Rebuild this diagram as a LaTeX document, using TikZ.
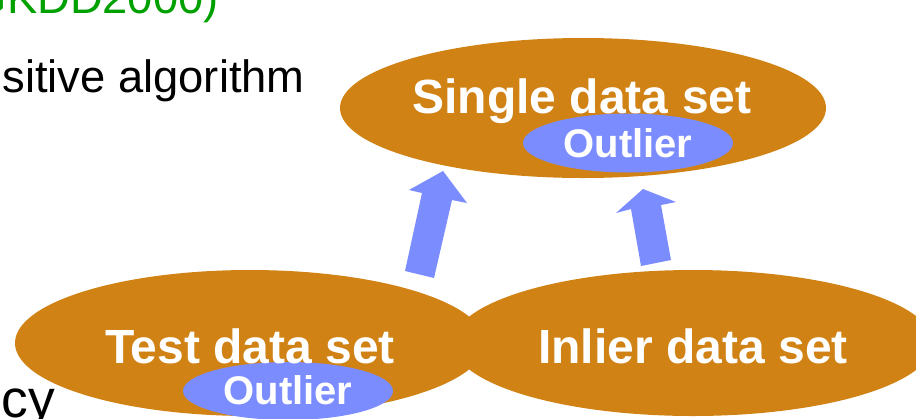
\documentclass[tikz,border=0pt]{standalone}
\usepackage{fontspec}
\setmainfont{Liberation Sans}
\usetikzlibrary{shapes.geometric}
\definecolor{setorange}{RGB}{209,130,20}
\definecolor{outblue}{RGB}{123,140,255}
\definecolor{refgreen}{RGB}{0,160,0}
\tikzset{
  dataset/.style={ellipse, fill=setorange, inner sep=0pt},
  outlierset/.style={ellipse, fill=outblue, inner sep=0pt},
  settext/.style={text=white, font=\fontsize{36}{40}\selectfont\bfseries, anchor=base, inner sep=0pt},
  outtext/.style={text=white, font=\fontsize{30}{34}\selectfont\bfseries, anchor=base, inner sep=0pt},
  bodytext/.style={font=\fontsize{34}{38}\selectfont, inner sep=0pt},
  uparrow/.style={fill=outblue}
}
\begin{document}
\begin{tikzpicture}[x=0.75pt, y=-0.75pt]
			%%%%% START %%%%%
			\useasboundingbox (0,0) rectangle (916,418);
			\clip (0,0) rectangle (916,418);
			
			\node[bodytext, text=refgreen, anchor=base east] (ref) at (219, 13) {GKDD2000)};
			\node[bodytext, anchor=base east] (algo) at (305, 92) {sitive algorithm};
			\node[bodytext, font=\fontsize{40}{44}\selectfont, anchor=base east] (acc) at (55, 417) {cy};
			
			\node[dataset, minimum width=364.5pt, minimum height=105pt] (single) at (583, 108) {};
			\node[outlierset, minimum width=157.5pt, minimum height=44.25pt] (singleout) at (628, 143) {};
			\node[settext] (singlelbl) at (582, 113) {Single data set};
			\node[outtext] (singleoutlbl) at (628, 157) {Outlier};
			
			\node[dataset, minimum width=360pt, minimum height=109.5pt] (inlier) at (693, 343) {};
			\node[dataset, minimum width=352.5pt, minimum height=109.5pt] (test) at (250, 343) {};
			\node[outlierset, minimum width=157.5pt, minimum height=43.5pt] (testout) at (288, 391) {};
			\node[settext] (testlbl) at (250, 363) {Test data set};
			\node[settext] (inlierlbl) at (693, 363) {Inlier data set};
			\node[outtext] (testoutlbl) at (288, 404) {Outlier};
			
			\fill[uparrow] (443,171) -- (467,203) -- (452,200) -- (434,278) -- (405,271) -- (422,193) -- (409,190) -- cycle;
			\fill[uparrow] (643,189) -- (676,202) -- (661,205) -- (671,260) -- (641,266) -- (631,209) -- (616,213) -- cycle;
			
			%%%%% END %%%%%
\end{tikzpicture}
\end{document}
